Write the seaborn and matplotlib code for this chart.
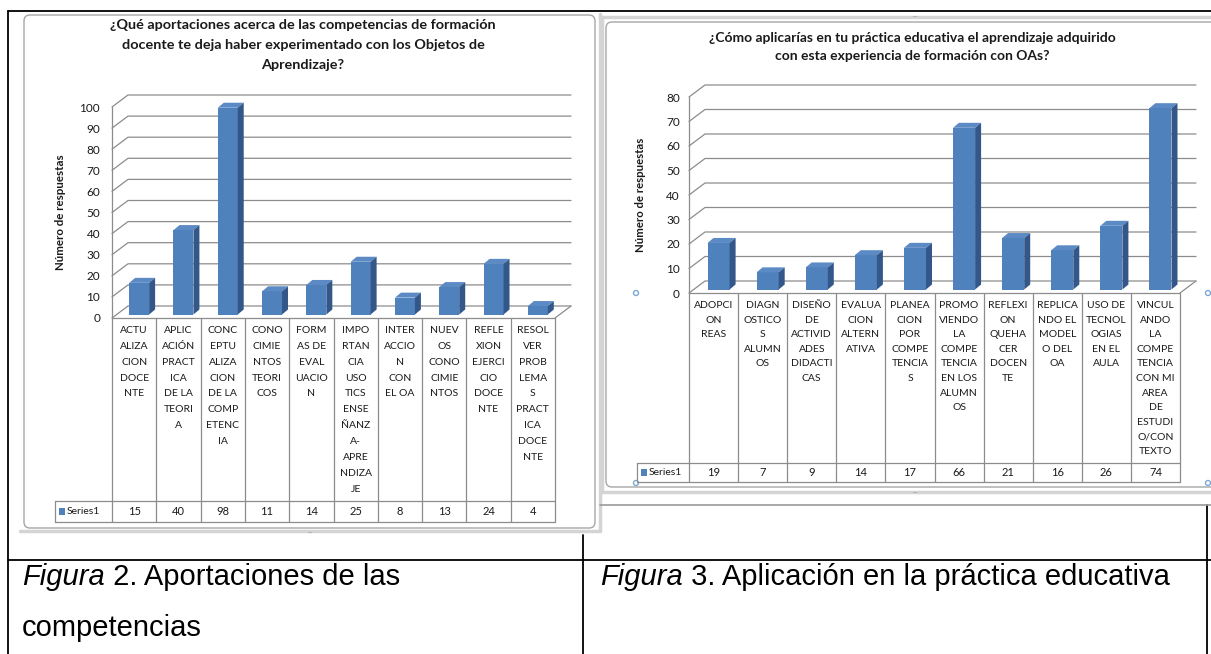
import numpy as np
import pandas as pd
import seaborn as sns
import matplotlib.pyplot as plt
from matplotlib import transforms as mtrans
from matplotlib.lines import Line2D
from matplotlib.patches import Polygon, Rectangle, FancyBboxPatch, Circle

# datos de la figura 2
cats_fig2 = ["ACTU\nALIZA\nCION\nDOCE\nNTE", "APLIC\nACIÓN\nPRACT\nICA\nDE LA\nTEORI\nA",
             "CONC\nEPTU\nALIZA\nCION\nDE LA\nCOMP\nETENC\nIA", "CONO\nCIMIE\nNTOS\nTEORI\nCOS",
             "FORM\nAS DE\nEVAL\nUACIO\nN",
             "IMPO\nRTAN\nCIA\nUSO\nTICS\nENSE\nÑANZ\nA-\nAPRE\nNDIZA\nJE",
             "INTER\nACCIO\nN\nCON\nEL OA", "NUEV\nOS\nCONO\nCIMIE\nNTOS",
             "REFLE\nXION\nEJERCI\nCIO\nDOCE\nNTE", "RESOL\nVER\nPROB\nLEMA\nS\nPRACT\nICA\nDOCE\nNTE"]
vals_fig2 = [15, 40, 98, 11, 14, 25, 8, 13, 24, 4]

# datos de la figura 3
cats_fig3 = ["ADOPCI\nON\nREAS", "DIAGN\nOSTICO\nS\nALUMN\nOS", "DISEÑO\nDE\nACTIVID\nADES\nDIDACTI\nCAS",
             "EVALUA\nCION\nALTERN\nATIVA", "PLANEA\nCION\nPOR\nCOMPE\nTENCIA\nS",
             "PROMO\nVIENDO\nLA\nCOMPE\nTENCIA\nEN LOS\nALUMN\nOS", "REFLEXI\nON\nQUEHA\nCER\nDOCEN\nTE",
             "REPLICA\nNDO EL\nMODEL\nO DEL\nOA", "USO DE\nTECNOL\nOGIAS\nEN EL\nAULA",
             "VINCUL\nANDO\nLA\nCOMPE\nTENCIA\nCON MI\nAREA\nDE\nESTUDI\nO/CON\nTEXTO"]
vals_fig3 = [19, 7, 9, 14, 17, 66, 21, 16, 26, 74]

titulo2 = "¿Qué aportaciones acerca de las competencias de formación\ndocente te deja haber experimentado con los Objetos de\nAprendizaje?"
titulo3 = "¿Cómo aplicarías en tu práctica educativa el aprendizaje adquirido\ncon esta experiencia de formación con OAs?"

FRENTE = '#4F81BD'
LADO = '#34578A'
TAPA = '#5B8AC5'
GRIS = '#8C8C8C'
TXT = '#1a1a1a'

sns.set_style('white')
plt.rcParams['font.family'] = ['Lato', 'DejaVu Sans']

W, H = 1211, 654
fig = plt.figure(figsize=(W / 100, H / 100), dpi=100)
pix = mtrans.Affine2D().scale(1, -1).translate(0, H)
ident = mtrans.IdentityTransform()


def linea(xs, ys, **kw):
    kw.setdefault('color', GRIS)
    kw.setdefault('lw', 0.9)
    fig.add_artist(Line2D(xs, ys, transform=pix, **kw))


def ejes_px(x0, y0, x1, y1):
    return fig.add_axes([x0 / W, 1 - y1 / H, (x1 - x0) / W, (y1 - y0) / H])


def grafico(ax, cats, vals, ymax, paso, pad, pared=(16, 12), mover=(5, 3.5), prof=(6, 5)):
    df = pd.DataFrame({'cat': cats, 'n': vals})
    sns.barplot(data=df, x='cat', y='n', color=FRENTE, saturation=1, width=0.45, ax=ax, zorder=3)
    n = len(cats)
    ax.set_xlim(-0.5, n - 0.5)
    ax.set_ylim(0, ymax)
    ax.set_xticks([])
    ax.set_xlabel('')
    ax.set_ylabel('')
    ax.set_yticks(np.arange(0, ymax + 1, paso))
    ax.tick_params(axis='y', length=0, pad=pad, labelsize=8.5, labelcolor=TXT)
    for s in ax.spines.values():
        s.set_visible(False)
    ax.patch.set_alpha(0)

    d = np.array(pared)
    x0, x1 = ax.get_xlim()
    # lineas de division en la pared del fondo
    for v in np.arange(0, ymax + 1, paso):
        a = ax.transData.transform((x0, v))
        b = ax.transData.transform((x1, v))
        pts = np.array([a, a + d, b + d])
        ax.add_line(Line2D(pts[:, 0], pts[:, 1], transform=ident, clip_on=False,
                           color=GRIS, lw=0.9, zorder=1))
    a = ax.transData.transform((x0, 0))
    b = ax.transData.transform((x1, 0))
    c = ax.transData.transform((x0, ymax))
    for pts in ([a, b], [b, b + d], [a, c]):
        pts = np.array(pts)
        ax.add_line(Line2D(pts[:, 0], pts[:, 1], transform=ident, clip_on=False,
                           color=GRIS, lw=0.9, zorder=1))

    # barras 3d
    tr = mtrans.offset_copy(ax.transData, fig=fig, x=mover[0], y=mover[1], units='dots')
    pd_ = np.array(prof)
    for p in list(ax.patches):
        p.set_transform(tr)
        p.set_clip_on(False)
        p.set_edgecolor('none')
        xl = p.get_x()
        xr = xl + p.get_width()
        h = p.get_height()
        fl = tr.transform((xl, h))
        fr = tr.transform((xr, h))
        br = tr.transform((xr, 0))
        ax.add_patch(Polygon([fl, fr, fr + pd_, fl + pd_], closed=True, transform=ident,
                             fc=TAPA, ec='none', clip_on=False, zorder=4))
        ax.add_patch(Polygon([br, fr, fr + pd_, br + pd_], closed=True, transform=ident,
                             fc=LADO, ec='none', clip_on=False, zorder=4))


def tabla(ax, cats, vals, y_piso, y_fila, y_fin, x_caja, fs, interl):
    bt = mtrans.blended_transform_factory(ax.transData, pix)
    n = len(cats)
    for i in range(n + 1):
        ax.add_line(Line2D([i - 0.5, i - 0.5], [y_piso, y_fin], transform=bt, clip_on=False,
                           color=GRIS, lw=0.9))
    x_der = ax.transData.transform((n - 0.5, 0))[0]
    linea([x_caja, x_der], [y_fila, y_fila])
    linea([x_caja, x_der], [y_fin, y_fin])
    linea([x_caja, x_caja], [y_fila, y_fin])
    for i, (c, v) in enumerate(zip(cats, vals)):
        ax.text(i, y_piso + 8, c, transform=bt, ha='center', va='top', fontsize=fs,
                linespacing=interl, color=TXT, clip_on=False)
        ax.text(i, (y_fila + y_fin) / 2, str(v), transform=bt, ha='center', va='center',
                fontsize=fs + 0.5, color=TXT, clip_on=False)
    ym = (y_fila + y_fin) / 2
    fig.add_artist(Rectangle((x_caja + 4, ym - 3.5), 6, 7, transform=pix, fc=FRENTE, ec='none'))
    fig.text(x_caja + 12, ym, 'Series1', transform=pix, ha='left', va='center', fontsize=fs, color=TXT)


# marcos de los graficos (detras de todo)
fig.add_artist(FancyBboxPatch((24, 15), 571, 513, boxstyle='round,pad=0,rounding_size=6',
                              transform=pix, fc='white', ec='#a6a6a6', lw=1.0, zorder=-10))
fig.add_artist(FancyBboxPatch((606, 22), 620, 465, boxstyle='round,pad=0,rounding_size=6',
                              transform=pix, fc='white', ec='#a6a6a6', lw=1.0, zorder=-10))
linea([20, 600], [531, 531], color='#d4d4d4', lw=2.5, zorder=-9)
linea([600, 600], [14, 531], color='#d4d4d4', lw=2.5, zorder=-9)
linea([602, W], [492, 492], color='#d4d4d4', lw=2.5, zorder=-9)
linea([602, 602], [17, 492], color='#d4d4d4', lw=2.5, zorder=-9)
linea([602, W], [17, 17], color='#d4d4d4', lw=2.5, zorder=-9)
for x, y in [(310, 533), (915, 493), (915, 17)]:
    fig.text(x, y, '····', transform=pix, ha='center', va='center', fontsize=4, color='#909090')
for x, y in [(636, 293), (1208, 293), (636, 483), (1208, 483)]:
    fig.add_artist(Circle((x, y), 2.5, transform=pix, fc='white', ec='#7fa7d0', lw=1))

# marcos del documento (tabla de Word)
linea([8, W], [11, 11], color='black', lw=1.3)
linea([8, 8], [11, H], color='black', lw=1.3)
linea([8, W], [560, 560], color='black', lw=1.3)
linea([583, 583], [535, H], color='black', lw=1.3)
linea([1207, 1207], [505, H], color='black', lw=1.3)
linea([600, W], [505, 505], color='#9a9a9a', lw=1.2)

# figura 2
ax1 = ejes_px(112, 107, 555, 318)
grafico(ax1, cats_fig2, vals_fig2, 100, 10, pad=8.6)
tabla(ax1, cats_fig2, vals_fig2, 318, 501, 522, 55, 7.5, 1.98)
fig.text(303, 45, titulo2, transform=pix, ha='center', va='center', fontsize=10.4,
         fontweight='bold', linespacing=1.8, color=TXT)
fig.text(60, 212, 'Número de respuestas', transform=pix, ha='center', va='center', rotation=90,
         fontsize=8.3, fontweight='bold', color=TXT)

# figura 3
ax2 = ejes_px(689, 97, 1180, 293)
grafico(ax2, cats_fig3, vals_fig3, 80, 10, pad=6.5)
tabla(ax2, cats_fig3, vals_fig3, 293, 463, 482, 637, 7.5, 1.8)
fig.text(912, 47, titulo3, transform=pix, ha='center', va='center', fontsize=10,
         fontweight='bold', linespacing=1.7, color=TXT)
fig.text(640, 195, 'Número de respuestas', transform=pix, ha='center', va='center', rotation=90,
         fontsize=8.2, fontweight='bold', color=TXT)

# pies de figura
rend = fig.canvas.get_renderer()
pies = [(22, 577, 'Figura', ' 2. Aportaciones de las'), (600, 577, 'Figura', ' 3. Aplicación en la práctica educativa')]
for x, y, cursiva, resto in pies:
    t = fig.text(x, y, cursiva, transform=pix, ha='left', va='center', fontsize=21,
                 fontstyle='italic', family='Liberation Sans', color='black')
    bb = t.get_window_extent(renderer=rend)
    fig.text(bb.x1, y, resto, transform=pix, ha='left', va='center', fontsize=21,
             family='Liberation Sans', color='black')
fig.text(22, 628, 'competencias', transform=pix, ha='left', va='center', fontsize=21,
         family='Liberation Sans', color='black')

fig.savefig('out.png', dpi=100)
